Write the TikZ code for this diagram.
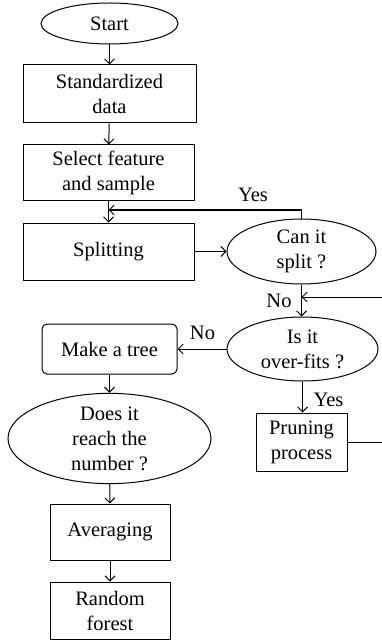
\documentclass[tikz,border=0pt]{standalone}
\usepackage{fontspec}
\setmainfont{Liberation Serif}
\usetikzlibrary{shapes.geometric,arrows.meta}
\begin{document}
\begin{tikzpicture}[x=1pt,y=-1pt,
  every node/.style={font=\fontsize{20.5}{25}\selectfont, align=center, inner sep=0pt},
  boxnode/.style={draw, line width=1pt, rectangle},
  roundnode/.style={draw, line width=1pt, rectangle, rounded corners=5pt},
  ellnode/.style={draw, line width=1pt, ellipse},
  lbl/.style={font=\fontsize{20.5}{25}\selectfont},
  arr/.style={line width=1pt, -{Straight Barb[length=5pt,width=10pt]}},
  ln/.style={line width=1pt}]
\useasboundingbox (0,0) rectangle (382,644);
\node[ellnode, minimum width=137pt, minimum height=41pt] (start) at (109.5,23.5) {Start};
\node[boxnode, minimum width=173pt, minimum height=58pt] (std) at (109.5,94) {Standardized\\data};
\node[boxnode, minimum width=171pt, minimum height=56pt] (sel) at (108.5,173) {Select feature\\and sample};
\node[boxnode, minimum width=171pt, minimum height=57pt] (split) at (108.5,251.5) {Splitting};
\node[ellnode, minimum width=149pt, minimum height=65pt] (can) at (301.5,251.5) {Can it\\split ?};
\node[ellnode, minimum width=151pt, minimum height=64pt] (over) at (302.5,349) {Is it\\over-fits ?};
\node[roundnode, minimum width=135pt, minimum height=50pt] (tree) at (109.5,349) {Make a tree};
\node[boxnode, minimum width=91pt, minimum height=58pt] (prune) at (301.5,442) {Pruning\\process};
\node[ellnode, minimum width=203pt, minimum height=87pt] (reach) at (109.5,438.5) {Does it\\reach the\\number ?};
\node[boxnode, minimum width=120pt, minimum height=56pt] (avg) at (110,532) {Averaging};
\node[boxnode, minimum width=120pt, minimum height=57pt] (rf) at (110,610.5) {Random\\forest};

\node[lbl] (yes1) at (253,195) {Yes};
\node[lbl] (no1) at (279,301) {No};
\node[lbl] (no2) at (202.5,333) {No};
\node[lbl] (yes2) at (328.5,400) {Yes};

\coordinate (yend) at (108.5,210);
\coordinate (rlow) at (382,442);
\coordinate (rhigh) at (382,297);
\coordinate (njoin) at (301.5,297);

\draw[arr] (start) -- (std);
\draw[arr] (std) -- (sel);
\draw[arr] (sel) -- (split);
\draw[arr] (split) -- (can);
\draw[arr] (can.north) |- (yend);
\draw[arr] (can.south) -- (over.north -| can.south);
\draw[arr] (over) -- (tree);
\draw[arr] (over.south) -- (prune.north -| over.south);
\draw[ln] (prune.east) -- (rlow);
\draw[arr] (rhigh) -- (njoin);
\draw[arr] (tree) -- (reach);
\draw[arr] (reach) -- (avg);
\draw[arr] (avg) -- (rf);
\end{tikzpicture}
\end{document}
